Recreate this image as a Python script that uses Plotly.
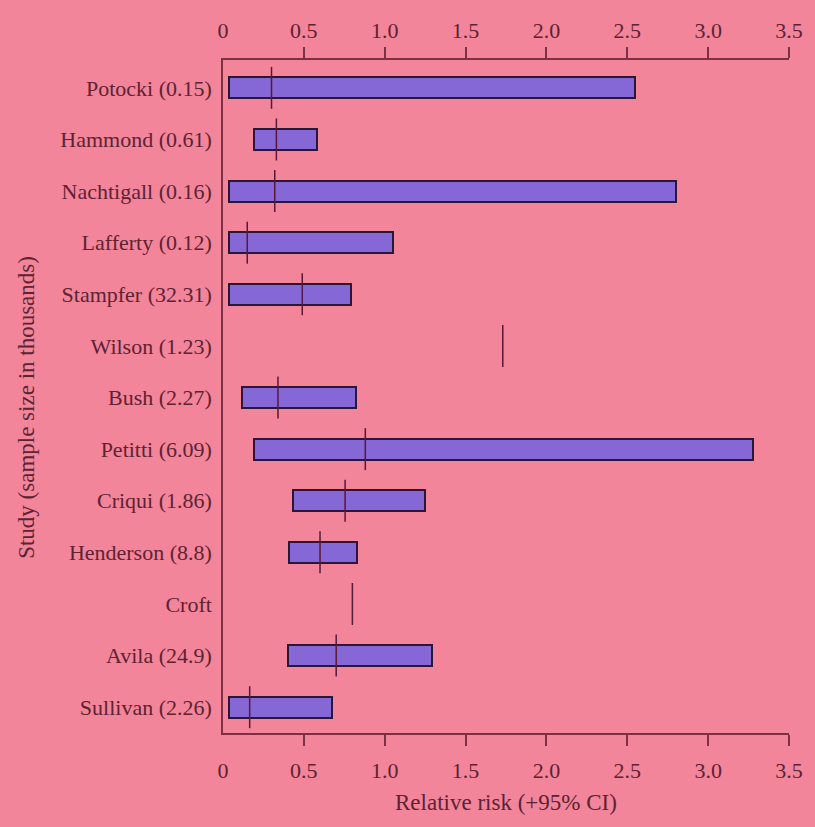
import plotly.graph_objects as go

# Studies, top to bottom, with sample size (thousands) in the label
studies = [
    "Potocki (0.15)", "Hammond (0.61)", "Nachtigall (0.16)", "Lafferty (0.12)",
    "Stampfer (32.31)", "Wilson (1.23)", "Bush (2.27)", "Petitti (6.09)",
    "Criqui (1.86)", "Henderson (8.8)", "Croft", "Avila (24.9)", "Sullivan (2.26)",
]
# 95% confidence interval bounds (None where no interval is reported)
ci_low = [0.04, 0.19, 0.04, 0.04, 0.035, None, 0.12, 0.19, 0.435, 0.41, None, 0.405, 0.04]
ci_high = [2.55, 0.58, 2.80, 1.05, 0.79, None, 0.82, 3.28, 1.25, 0.83, None, 1.29, 0.675]
# Point estimate of relative risk
rel_risk = [0.30, 0.33, 0.32, 0.15, 0.49, 1.73, 0.34, 0.88, 0.755, 0.60, 0.80, 0.70, 0.165]

tick_vals = [0, 0.5, 1.0, 1.5, 2.0, 2.5, 3.0, 3.5]
tick_text = ["0", "0.5", "1.0", "1.5", "2.0", "2.5", "3.0", "3.5"]

BG = "#F2859A"
BAR = "#8567D6"
EDGE = "#2B1638"
INK = "#5E2233"
AXIS = "#7A3143"
FONT = "Liberation Serif"
FS = 22

ci_base = [lo if lo is not None else None for lo in ci_low]
ci_len = [(hi - lo) if (lo is not None and hi is not None) else None
          for lo, hi in zip(ci_low, ci_high)]

fig = go.Figure()

fig.add_trace(go.Bar(
    y=studies, x=ci_len, base=ci_base, orientation="h", width=0.41,
    marker=dict(color=BAR, line=dict(color=EDGE, width=2)),
    showlegend=False, hoverinfo="skip",
))

fig.add_trace(go.Scatter(
    y=studies, x=rel_risk, mode="markers",
    marker=dict(symbol="line-ns", size=30, line=dict(color="#58183A", width=1.5)),
    showlegend=False,
))

# Label-only axes (top and bottom) carrying 0 … 3.5
label_axis = dict(
    range=[0, 3.5], tickmode="array", tickvals=tick_vals, ticktext=tick_text,
    ticks="", showline=False, showgrid=False, zeroline=False,
    tickfont=dict(family=FONT, size=FS, color=INK), fixedrange=True,
)
# Tick-only axes (no mark at 0)
mark_axis = dict(
    range=[0, 3.5], tickmode="array", tickvals=tick_vals[1:],
    ticks="outside", ticklen=11, tickwidth=1.5, tickcolor=AXIS,
    showticklabels=False, showline=True, linecolor=AXIS, linewidth=1.5,
    showgrid=False, zeroline=False, fixedrange=True,
)

fig.update_layout(
    width=815, height=827,
    margin=dict(l=223, r=21, t=60, b=94),
    paper_bgcolor=BG, plot_bgcolor=BG,
    xaxis=dict(**mark_axis, side="bottom"),
    xaxis2=dict(**mark_axis, side="top", overlaying="x", anchor="y"),
    xaxis3=dict(**label_axis, side="bottom", overlaying="x", anchor="y",
                ticklabelstandoff=22),
    xaxis4=dict(**label_axis, side="top", overlaying="x", anchor="y",
                ticklabelstandoff=17),
    yaxis=dict(
        type="category", categoryorder="array", categoryarray=studies,
        range=[12.5, -0.54], ticks="", showline=True, linecolor=AXIS, linewidth=1.5,
        showgrid=False, zeroline=False, ticklabelstandoff=5,
        tickfont=dict(family=FONT, size=FS, color=INK), fixedrange=True,
    ),
    bargap=0,
    annotations=[
        dict(text="Relative risk (+95% CI)", xref="paper", yref="paper",
             x=0.5, y=-0.104, xanchor="center", yanchor="middle", showarrow=False,
             font=dict(family=FONT, size=23, color=INK)),
        dict(text="Study (sample size in thousands)", xref="paper", yref="paper",
             x=-0.347, y=0.484, xanchor="center", yanchor="middle", showarrow=False,
             textangle=-90, font=dict(family=FONT, size=23, color=INK)),
    ],
)

# Invisible traces so the overlay axes are drawn
for ax in ["x2", "x3", "x4"]:
    fig.add_trace(go.Scatter(x=[None], y=[None], xaxis=ax, yaxis="y",
                             showlegend=False, hoverinfo="skip"))

fig.write_html("out.html")
